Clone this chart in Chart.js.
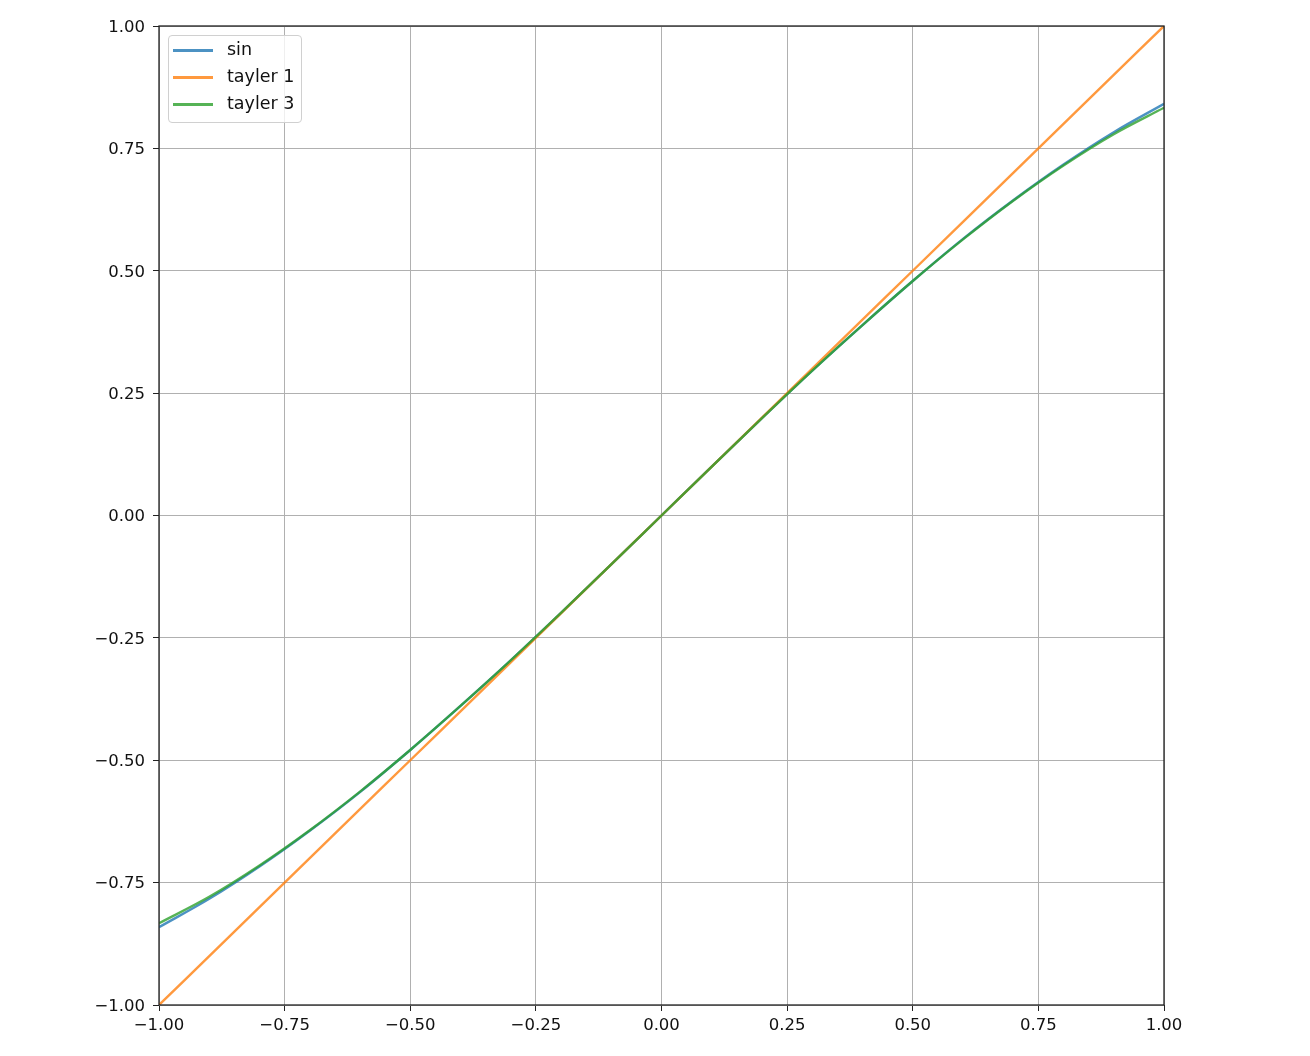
<!DOCTYPE html>
<html>
<head>
<meta charset="utf-8">
<script src="https://cdn.jsdelivr.net/npm/chart.js@4/dist/chart.umd.min.js"></script>
<style>
body{margin:0;background:#fff;}
#wrap{position:relative;width:1310px;height:1056px;}
#legend{position:absolute;left:168px;top:35px;width:132px;height:86px;border:1px solid #d0d0d0;border-radius:4px;background:rgba(255,255,255,0.8);font-family:"DejaVu Sans";font-size:17.5px;color:#111;}
.row{position:absolute;left:4px;height:20px;line-height:20px;}
.row span.ln{position:absolute;left:0;top:9px;width:40px;height:2.5px;}
.row span.tx{position:absolute;left:54px;top:-1px;white-space:nowrap;}
</style>
</head>
<body>
<div id="wrap">
<canvas id="c" width="1310" height="1056"></canvas>
<div id="legend"></div>
</div>
<script>

// x positions the curves were read at
const xValues = [-1.0,-0.9,-0.8,-0.7,-0.6,-0.5,-0.4,-0.3,-0.2,-0.1,0,0.1,0.2,0.3,0.4,0.5,0.6,0.7,0.8,0.9,1.0];

const sinValues = [-0.841,-0.783,-0.717,-0.644,-0.565,-0.479,-0.389,-0.296,-0.199,-0.100,0,0.100,0.199,0.296,0.389,0.479,0.565,0.644,0.717,0.783,0.841];
const tayler1Values = [-1.0,-0.9,-0.8,-0.7,-0.6,-0.5,-0.4,-0.3,-0.2,-0.1,0,0.1,0.2,0.3,0.4,0.5,0.6,0.7,0.8,0.9,1.0];
const tayler3Values = [-0.833,-0.779,-0.715,-0.643,-0.564,-0.479,-0.389,-0.296,-0.199,-0.100,0,0.100,0.199,0.296,0.389,0.479,0.564,0.643,0.715,0.779,0.833];

const seriesNames = ["sin","tayler 1","tayler 3"];
const colors = ["rgba(31,119,180,0.8)","rgba(255,127,14,0.8)","rgba(44,160,44,0.8)"];

const xTicks = [-1,-0.75,-0.5,-0.25,0,0.25,0.5,0.75,1];
const yTicks = [-1,-0.75,-0.5,-0.25,0,0.25,0.5,0.75,1];

function pts(ys){
return xValues.map((x,i) => ({x:x, y:ys[i]}));
}

function fmt(v){
return v.toFixed(2).replace("-","\u2212");
}

const frame = {
id:"frame",
afterDraw(chart){
const a = chart.chartArea;
const ctx = chart.ctx;
ctx.save();
ctx.strokeStyle = "#222";
ctx.lineWidth = 1.3;
ctx.strokeRect(a.left, a.top, a.right-a.left, a.bottom-a.top);
ctx.restore();
}
};

const allSeries = [sinValues, tayler1Values, tayler3Values];

new Chart(document.getElementById("c"), {
type:"line",
data:{
datasets: allSeries.map((ys,i) => ({
label: seriesNames[i],
data: pts(ys),
borderColor: colors[i],
backgroundColor: colors[i],
borderWidth: 2.4,
pointRadius: 0,
fill: false,
cubicInterpolationMode: "monotone",
order: 3 - i
}))
},
options:{
responsive:false,
animation:false,
devicePixelRatio:1,
layout:{padding:{top:26,right:146,left:0,bottom:0}},
plugins:{legend:{display:false},tooltip:{enabled:false}},
scales:{
x:{
type:"linear",
min:-1,max:1,
afterBuildTicks(scale){ scale.ticks = xTicks.map(v => ({value:v})); },
afterFit(scale){ scale.height = 51; },
grid:{color:"#b0b0b0",lineWidth:1,tickLength:6,tickColor:"#222",drawOnChartArea:true},
border:{display:false},
ticks:{padding:5,color:"#111",maxRotation:0,autoSkip:false,font:{family:"DejaVu Sans",size:16.5},callback:v => fmt(v)}
},
y:{
type:"linear",
min:-1,max:1,
afterBuildTicks(scale){ scale.ticks = yTicks.map(v => ({value:v})); },
afterFit(scale){ scale.width = 159; },
grid:{color:"#b0b0b0",lineWidth:1,tickLength:6,tickColor:"#222"},
border:{display:false},
ticks:{padding:8,labelOffset:1.5,color:"#111",autoSkip:false,font:{family:"DejaVu Sans",size:16.5},callback:v => fmt(v)}
}
}
},
plugins:[frame]
});

const legend = document.getElementById("legend");
seriesNames.forEach((name,i) => {
const row = document.createElement("div");
row.className = "row";
row.style.top = (4 + i*27) + "px";
row.innerHTML = `<span class="ln" style="background:${colors[i]}"></span><span class="tx">${name}</span>`;
legend.appendChild(row);
});

</script>
</body>
</html>
